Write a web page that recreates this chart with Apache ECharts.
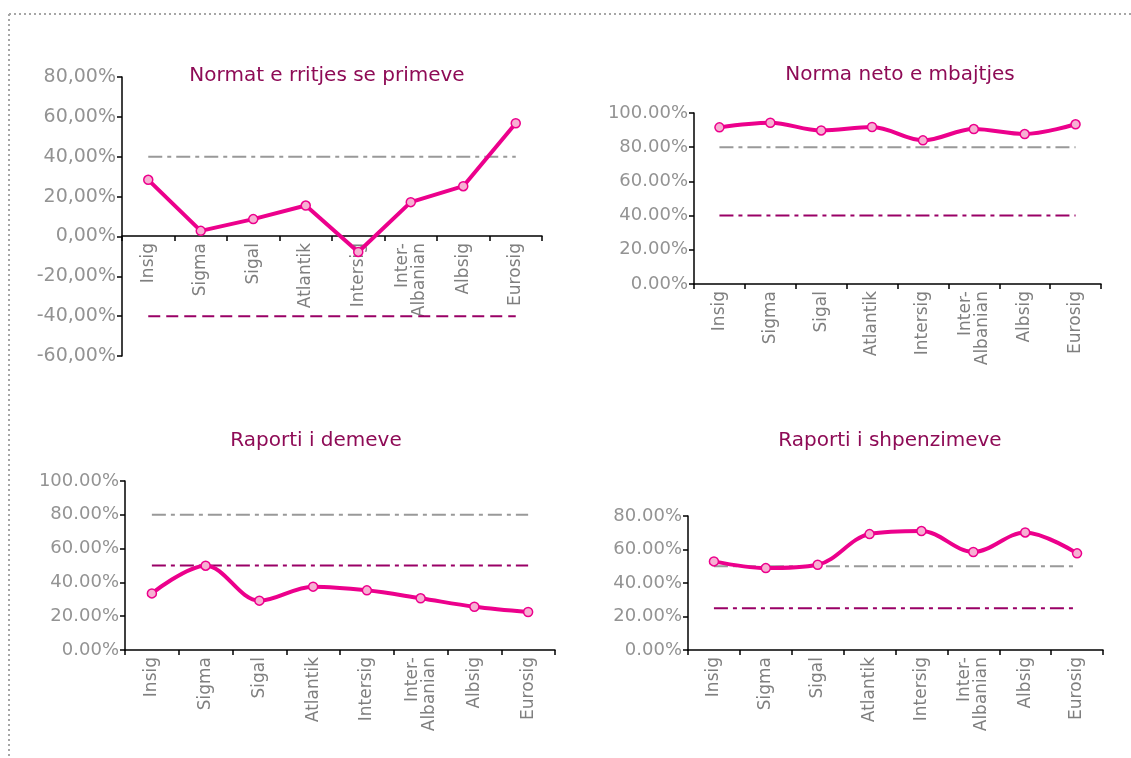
<!DOCTYPE html>
<html lang="sq">
<head>
<meta charset="utf-8">
<title>Treguesit e tregut</title>
<script src="https://cdn.jsdelivr.net/npm/echarts@6/dist/echarts.min.js"></script>
<style>
html, body { margin: 0; padding: 0; background: #fff; }
#grafik { width: 1131px; height: 758px; }
</style>
</head>
<body>
<div id="grafik"></div>

<script>
// kompanite (kategorite)
var kompanite = ['Insig', 'Sigma', 'Sigal', 'Atlantik', 'Intersig', 'Inter-\nAlbanian', 'Albsig', 'Eurosig'];

// Normat e rritjes se primeve (%)
var rritja      = [28.4, 2.8, 8.7, 15.5, -7.8, 17.2, 25.2, 56.8];
var rritjaLart  = [40, 40, 40, 40, 40, 40, 40, 40];
var rritjaPosht = [-40, -40, -40, -40, -40, -40, -40, -40];

// Norma neto e mbajtjes (%)
var mbajtja      = [91.6, 94.3, 89.8, 91.8, 84.0, 90.6, 87.7, 93.4];
var mbajtjaLart  = [80, 80, 80, 80, 80, 80, 80, 80];
var mbajtjaPosht = [40, 40, 40, 40, 40, 40, 40, 40];

// Raporti i demeve (%)
var demet      = [33.5, 49.9, 29.2, 37.5, 35.3, 30.6, 25.6, 22.5];
var demetLart  = [80, 80, 80, 80, 80, 80, 80, 80];
var demetPosht = [50, 50, 50, 50, 50, 50, 50, 50];

// Raporti i shpenzimeve (%)
var shpenzimet      = [52.9, 48.9, 50.9, 69.2, 71.0, 58.5, 70.2, 57.7];
var shpenzimetLart  = [50, 50, 50, 50, 50, 50, 50, 50];
var shpenzimetPosht = [25, 25, 25, 25, 25, 25, 25, 25];

var fonti = '"DejaVu Sans", Verdana, sans-serif';
var rozeLinja = '#ec008c';
var rozeMarker = '#f7b0d3';
var vjollce = '#990066';
var gri = '#999999';
var vijePike = [14, 5, 4, 5];

var grafik = echarts.init(document.getElementById('grafik'));

// ndihmes per boshtet
function boshtX(i, zhvendosje) {
  return {
    type: 'category', gridIndex: i, data: kompanite, boundaryGap: true,
    offset: zhvendosje || 0,
    axisLine: { onZero: false, lineStyle: { color: '#000', width: 1.5 } },
    axisTick: { show: true, length: 5, interval: 0, lineStyle: { color: '#000', width: 1.5 } },
    axisLabel: { rotate: 90, interval: 0, margin: 7, color: '#7f7f7f',
      fontFamily: fonti, fontSize: 17, lineHeight: 17 },
    splitLine: { show: false }
  };
}
function boshtY(i, min, max, presje) {
  return {
    type: 'value', gridIndex: i, min: min, max: max, interval: 20,
    axisLine: { show: true, lineStyle: { color: '#000', width: 1.5 } },
    axisTick: { show: true, length: 5, lineStyle: { color: '#000', width: 1.5 } },
    splitLine: { show: false },
    axisLabel: { color: '#939393', fontFamily: fonti, fontSize: presje ? 19 : 18, margin: 6,
      formatter: function (v) {
        var t = v.toFixed(2) + '%';
        return presje ? t.replace('.', ',') : t;
      } }
  };
}
function seriKryesore(i, data, smooth) {
  return {
    type: 'line', xAxisIndex: i, yAxisIndex: i, data: data, smooth: smooth ? 0.35 : false,
    symbol: 'circle', symbolSize: 9, z: 5,
    lineStyle: { color: rozeLinja, width: 4 },
    itemStyle: { color: rozeMarker, borderColor: rozeLinja, borderWidth: 1.5 }
  };
}
function seriReference(i, data, ngjyra, tipi) {
  return {
    type: 'line', xAxisIndex: i, yAxisIndex: i, data: data, symbol: 'none', z: 3,
    lineStyle: { color: ngjyra, width: 2, type: tipi }, silent: true
  };
}

var titujt = [
  { t: 'Normat e rritjes se primeve', x: 322, y: 61 },
  { t: 'Norma neto e mbajtjes', x: 895, y: 60 },
  { t: 'Raporti i demeve', x: 311, y: 426 },
  { t: 'Raporti i shpenzimeve', x: 885, y: 426 }
];

option = {
  animation: false,
  backgroundColor: '#fff',
  title: titujt.map(function (o) {
    return { text: o.t, left: o.x, top: o.y, textAlign: 'center',
      textStyle: { color: '#8e0b56', fontFamily: fonti, fontSize: 20, fontWeight: 'normal' } };
  }),
  grid: [
    { left: 122, top: 77, width: 420, height: 279 },
    { left: 694, top: 113, width: 407, height: 171 },
    { left: 125, top: 481, width: 430, height: 169 },
    { left: 688, top: 516, width: 415, height: 134 }
  ],
  // boshti i pare kalon ne 0%
  xAxis: [boshtX(0, -120), boshtX(1), boshtX(2), boshtX(3)],
  yAxis: [
    boshtY(0, -60, 80, true),
    boshtY(1, 0, 100, false),
    boshtY(2, 0, 100, false),
    boshtY(3, 0, 80, false)
  ],
  series: [
    seriReference(0, rritjaLart, gri, vijePike),
    seriReference(0, rritjaPosht, vjollce, [12, 6]),
    seriKryesore(0, rritja, false),

    seriReference(1, mbajtjaLart, gri, vijePike),
    seriReference(1, mbajtjaPosht, vjollce, vijePike),
    seriKryesore(1, mbajtja, true),

    seriReference(2, demetLart, gri, vijePike),
    seriReference(2, demetPosht, vjollce, vijePike),
    seriKryesore(2, demet, true),

    seriReference(3, shpenzimetLart, gri, vijePike),
    seriReference(3, shpenzimetPosht, vjollce, vijePike),
    seriKryesore(3, shpenzimet, true)
  ],
  // korniza me pika lart dhe majtas
  graphic: [
    { type: 'line', shape: { x1: 9, y1: 14, x2: 1131, y2: 14 },
      style: { stroke: '#a6a6a6', lineWidth: 2, lineDash: [2, 3] } },
    { type: 'line', shape: { x1: 9, y1: 14, x2: 9, y2: 758 },
      style: { stroke: '#a6a6a6', lineWidth: 2, lineDash: [2, 3] } }
  ]
};
grafik.setOption(option);
</script>
</body>
</html>
